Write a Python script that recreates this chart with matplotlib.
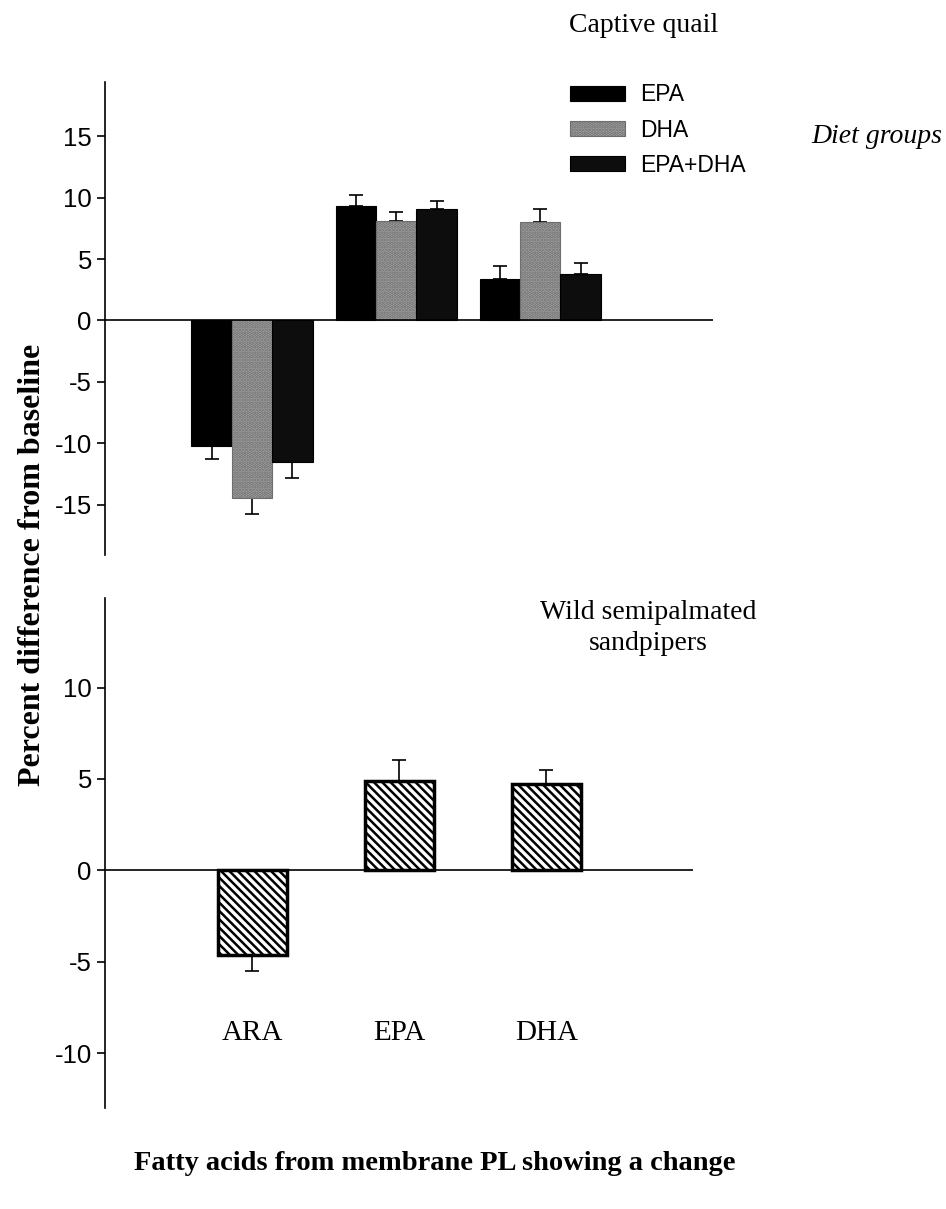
import matplotlib.pyplot as plt
import numpy as np

plt.rcParams['hatch.linewidth'] = 1.8
plt.rcParams['axes.unicode_minus'] = False

# Captive quail: change per fatty acid, for each diet group
acids = ['ARA', 'EPA', 'DHA']
diet_groups = ['EPA', 'DHA', 'EPA+DHA']
quail_epa = [-10.2, 9.35, 3.4]
quail_dha = [-14.5, 8.1, 8.0]
quail_epadha = [-11.5, 9.1, 3.8]
quail_epa_err = [1.1, 0.85, 1.0]
quail_dha_err = [1.3, 0.75, 1.1]
quail_epadha_err = [1.3, 0.65, 0.9]

# Wild semipalmated sandpipers
wild_vals = [-4.65, 4.9, 4.75]
wild_err = [0.85, 1.15, 0.75]

serif = 'Liberation Serif'
sans = 'Liberation Sans'

fig = plt.figure(figsize=(9.46, 12.09), dpi=100)
ax1 = fig.add_axes([0.111, 0.541, 0.643, 0.391])
ax2 = fig.add_axes([0.111, 0.0835, 0.622, 0.4219])


def one_sided(vals, errs):
    lo = [e if v < 0 else 0 for v, e in zip(vals, errs)]
    hi = [e if v >= 0 else 0 for v, e in zip(vals, errs)]
    return [lo, hi]


x = np.arange(len(acids))
w = 0.28
styles = [
    dict(color='black', edgecolor='black'),
    dict(color='#a6a6a6', edgecolor='#6e6e6e', hatch='.....'),
    dict(color='#0d0d0d', edgecolor='black'),
]
series = [(quail_epa, quail_epa_err), (quail_dha, quail_dha_err),
          (quail_epadha, quail_epadha_err)]
handles = []
for i, ((vals, errs), st) in enumerate(zip(series, styles)):
    b = ax1.bar(x + (i - 1) * w, vals, w, linewidth=0.8, zorder=2, **st)
    ax1.errorbar(x + (i - 1) * w, vals, yerr=one_sided(vals, errs), fmt='none',
                 ecolor='black', elinewidth=1.2, capsize=5, capthick=1.2, zorder=1)
    handles.append(b)

ax1.set_xlim(-1.02, 3.2)
ax1.set_ylim(-19.1, 19.4)
ax1.axhline(0, color='black', linewidth=1.2, zorder=3)
ax1.set_yticks([-15, -10, -5, 0, 5, 10, 15])

ax2.bar(x, wild_vals, 0.47, color='white', edgecolor='black', hatch='\\\\\\\\',
        linewidth=2.5, zorder=2)
ax2.errorbar(x, wild_vals, yerr=one_sided(wild_vals, wild_err), fmt='none',
             ecolor='black', elinewidth=1.2, capsize=5, capthick=1.2, zorder=1)
ax2.set_xlim(-1.0, 3.0)
ax2.set_ylim(-13.0, 14.9)
ax2.axhline(0, color='black', linewidth=1.2, zorder=3)
ax2.set_yticks([-10, -5, 0, 5, 10])
for xi, name in zip(x, acids):
    ax2.text(xi, -8.9, name, ha='center', va='center', family=serif, fontsize=21)

for ax in (ax1, ax2):
    for s in ('top', 'right', 'bottom'):
        ax.spines[s].set_visible(False)
    ax.spines['left'].set_linewidth(1.2)
    ax.set_xticks([])
    ax.tick_params(axis='y', direction='out', length=6, width=1.2, labelsize=18.5)
    for lab in ax.get_yticklabels():
        lab.set_family(sans)

fig.legend(handles, diet_groups, loc='upper left', bbox_to_anchor=(0.581, 0.948),
           frameon=False, handlelength=2.4, handleheight=0.65, labelspacing=0.53,
           handletextpad=0.65, prop={'family': sans, 'size': 16.5})

fig.text(0.68, 0.979, 'Captive quail', ha='center', va='center', family=serif, fontsize=20)
fig.text(0.927, 0.887, 'Diet groups', ha='center', va='center', family=serif,
         fontsize=20, style='italic')
fig.text(0.685, 0.4806, 'Wild semipalmated\nsandpipers', ha='center', va='center',
         family=serif, fontsize=20, linespacing=1.3)
fig.text(0.034, 0.533, 'Percent difference from baseline', rotation=90, ha='center',
         va='center', family=serif, fontsize=23, fontweight='bold')
fig.text(0.46, 0.038, 'Fatty acids from membrane PL showing a change', ha='center',
         va='center', family=serif, fontsize=20.5, fontweight='bold')

fig.savefig('out.png', dpi=100)
